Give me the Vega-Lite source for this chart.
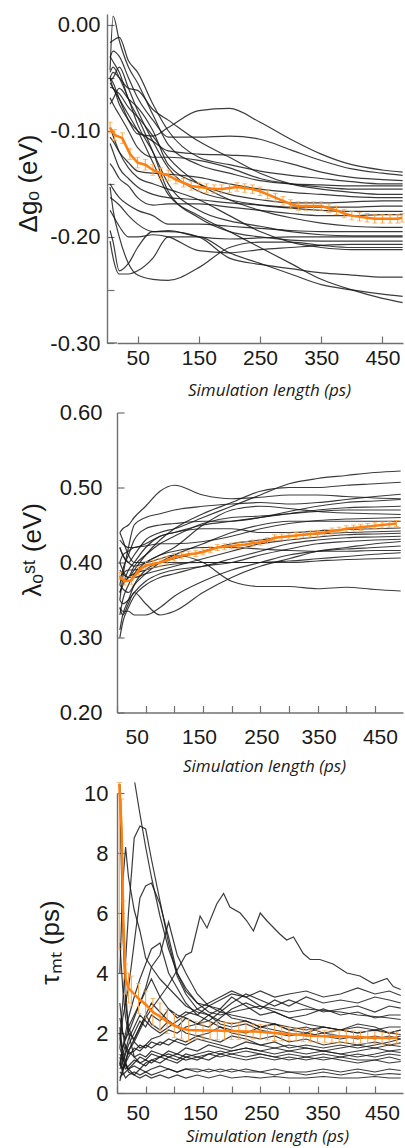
{
"$schema":"https://vega.github.io/schema/vega-lite/v6.json",
"background":"white",
"padding":{"left":15,"top":13,"right":0,"bottom":3},
"spacing":3.5,
"config":{"view":{"stroke":null},"axis":{"domainColor":"#707070","domainWidth":1.4,"tickColor":"#707070","tickWidth":1.2,"tickSize":-7,"grid":false,"labelColor":"#1a1a1a","labelFont":"Liberation Sans","labelFlush":false,"labelOverlap":false,"titleColor":"#1a1a1a","titleFontWeight":"normal"},
"axisX":{"labelFontSize":21,"labelExpr":"datum.value % 100 == 50 ? format(datum.value, 'd') : ''","titleFont":"Open Sans","titleFontStyle":"italic","titleFontSize":17,"titleBaseline":"middle","titleAlign":"center"},
"axisY":{"labelFontSize":22,"titleFont":"Liberation Sans","titleFontSize":26,"titleAngle":-90,"titleBaseline":"middle","titleAlign":"center"}},
"datasets":{
"a":[
{"s":1,"x":5,"y":-0.05},{"s":1,"x":10,"y":-0.055},{"s":1,"x":20,"y":-0.07},{"s":1,"x":35,"y":-0.09},{"s":1,"x":50,"y":-0.103},{"s":1,"x":75,"y":-0.105},{"s":1,"x":100,"y":-0.097},{"s":1,"x":150,"y":-0.081},{"s":1,"x":200,"y":-0.079},{"s":1,"x":250,"y":-0.092},{"s":1,"x":300,"y":-0.108},{"s":1,"x":350,"y":-0.122},{"s":1,"x":400,"y":-0.132},{"s":1,"x":450,"y":-0.137},{"s":1,"x":483,"y":-0.139},
{"s":2,"x":5,"y":-0.031},{"s":2,"x":10,"y":-0.025},{"s":2,"x":20,"y":-0.03},{"s":2,"x":35,"y":-0.05},{"s":2,"x":50,"y":-0.069},{"s":2,"x":75,"y":-0.09},{"s":2,"x":100,"y":-0.106},{"s":2,"x":150,"y":-0.106},{"s":2,"x":200,"y":-0.105},{"s":2,"x":250,"y":-0.108},{"s":2,"x":300,"y":-0.118},{"s":2,"x":350,"y":-0.128},{"s":2,"x":400,"y":-0.136},{"s":2,"x":450,"y":-0.14},{"s":2,"x":483,"y":-0.142},
{"s":3,"x":5,"y":-0.059},{"s":3,"x":10,"y":-0.06},{"s":3,"x":20,"y":-0.075},{"s":3,"x":35,"y":-0.09},{"s":3,"x":50,"y":-0.1},{"s":3,"x":75,"y":-0.11},{"s":3,"x":100,"y":-0.119},{"s":3,"x":150,"y":-0.122},{"s":3,"x":200,"y":-0.123},{"s":3,"x":250,"y":-0.125},{"s":3,"x":300,"y":-0.131},{"s":3,"x":350,"y":-0.139},{"s":3,"x":400,"y":-0.144},{"s":3,"x":450,"y":-0.146},{"s":3,"x":483,"y":-0.147},
{"s":4,"x":5,"y":-0.017},{"s":4,"x":10,"y":-0.015},{"s":4,"x":20,"y":-0.012},{"s":4,"x":35,"y":-0.034},{"s":4,"x":50,"y":-0.045},{"s":4,"x":75,"y":-0.075},{"s":4,"x":100,"y":-0.1},{"s":4,"x":150,"y":-0.125},{"s":4,"x":200,"y":-0.132},{"s":4,"x":250,"y":-0.138},{"s":4,"x":300,"y":-0.142},{"s":4,"x":350,"y":-0.145},{"s":4,"x":400,"y":-0.148},{"s":4,"x":450,"y":-0.15},{"s":4,"x":483,"y":-0.15},
{"s":5,"x":5,"y":-0.043},{"s":5,"x":10,"y":0.008},{"s":5,"x":20,"y":-0.015},{"s":5,"x":35,"y":-0.04},{"s":5,"x":50,"y":-0.055},{"s":5,"x":75,"y":-0.085},{"s":5,"x":100,"y":-0.113},{"s":5,"x":150,"y":-0.132},{"s":5,"x":200,"y":-0.14},{"s":5,"x":250,"y":-0.147},{"s":5,"x":300,"y":-0.15},{"s":5,"x":350,"y":-0.151},{"s":5,"x":400,"y":-0.152},{"s":5,"x":450,"y":-0.152},{"s":5,"x":483,"y":-0.152},
{"s":6,"x":5,"y":-0.069},{"s":6,"x":10,"y":-0.075},{"s":6,"x":20,"y":-0.085},{"s":6,"x":35,"y":-0.1},{"s":6,"x":50,"y":-0.116},{"s":6,"x":75,"y":-0.125},{"s":6,"x":100,"y":-0.125},{"s":6,"x":150,"y":-0.128},{"s":6,"x":200,"y":-0.135},{"s":6,"x":250,"y":-0.145},{"s":6,"x":300,"y":-0.15},{"s":6,"x":350,"y":-0.153},{"s":6,"x":400,"y":-0.155},{"s":6,"x":450,"y":-0.155},{"s":6,"x":483,"y":-0.155},
{"s":7,"x":5,"y":-0.05},{"s":7,"x":10,"y":-0.045},{"s":7,"x":20,"y":-0.05},{"s":7,"x":35,"y":-0.06},{"s":7,"x":50,"y":-0.062},{"s":7,"x":75,"y":-0.08},{"s":7,"x":100,"y":-0.09},{"s":7,"x":150,"y":-0.11},{"s":7,"x":200,"y":-0.125},{"s":7,"x":250,"y":-0.14},{"s":7,"x":300,"y":-0.15},{"s":7,"x":350,"y":-0.155},{"s":7,"x":400,"y":-0.158},{"s":7,"x":450,"y":-0.16},{"s":7,"x":483,"y":-0.16},
{"s":8,"x":5,"y":-0.106},{"s":8,"x":10,"y":-0.11},{"s":8,"x":20,"y":-0.12},{"s":8,"x":35,"y":-0.13},{"s":8,"x":50,"y":-0.138},{"s":8,"x":75,"y":-0.14},{"s":8,"x":100,"y":-0.141},{"s":8,"x":150,"y":-0.144},{"s":8,"x":200,"y":-0.15},{"s":8,"x":250,"y":-0.155},{"s":8,"x":300,"y":-0.158},{"s":8,"x":350,"y":-0.16},{"s":8,"x":400,"y":-0.162},{"s":8,"x":450,"y":-0.163},{"s":8,"x":483,"y":-0.163},
{"s":9,"x":5,"y":-0.075},{"s":9,"x":10,"y":-0.07},{"s":9,"x":20,"y":-0.06},{"s":9,"x":35,"y":-0.07},{"s":9,"x":50,"y":-0.078},{"s":9,"x":75,"y":-0.1},{"s":9,"x":100,"y":-0.132},{"s":9,"x":150,"y":-0.15},{"s":9,"x":200,"y":-0.16},{"s":9,"x":250,"y":-0.165},{"s":9,"x":300,"y":-0.168},{"s":9,"x":350,"y":-0.168},{"s":9,"x":400,"y":-0.167},{"s":9,"x":450,"y":-0.166},{"s":9,"x":483,"y":-0.166},
{"s":10,"x":5,"y":-0.112},{"s":10,"x":10,"y":-0.12},{"s":10,"x":20,"y":-0.135},{"s":10,"x":35,"y":-0.145},{"s":10,"x":50,"y":-0.153},{"s":10,"x":75,"y":-0.16},{"s":10,"x":100,"y":-0.163},{"s":10,"x":150,"y":-0.165},{"s":10,"x":200,"y":-0.168},{"s":10,"x":250,"y":-0.17},{"s":10,"x":300,"y":-0.172},{"s":10,"x":350,"y":-0.172},{"s":10,"x":400,"y":-0.172},{"s":10,"x":450,"y":-0.171},{"s":10,"x":483,"y":-0.171},
{"s":11,"x":5,"y":-0.053},{"s":11,"x":10,"y":-0.05},{"s":11,"x":20,"y":-0.04},{"s":11,"x":35,"y":-0.06},{"s":11,"x":50,"y":-0.081},{"s":11,"x":75,"y":-0.11},{"s":11,"x":100,"y":-0.135},{"s":11,"x":150,"y":-0.157},{"s":11,"x":200,"y":-0.165},{"s":11,"x":250,"y":-0.17},{"s":11,"x":300,"y":-0.173},{"s":11,"x":350,"y":-0.175},{"s":11,"x":400,"y":-0.176},{"s":11,"x":450,"y":-0.176},{"s":11,"x":483,"y":-0.176},
{"s":12,"x":5,"y":-0.131},{"s":12,"x":10,"y":-0.135},{"s":12,"x":20,"y":-0.145},{"s":12,"x":35,"y":-0.152},{"s":12,"x":50,"y":-0.163},{"s":12,"x":75,"y":-0.17},{"s":12,"x":100,"y":-0.169},{"s":12,"x":150,"y":-0.169},{"s":12,"x":200,"y":-0.172},{"s":12,"x":250,"y":-0.175},{"s":12,"x":300,"y":-0.178},{"s":12,"x":350,"y":-0.18},{"s":12,"x":400,"y":-0.18},{"s":12,"x":450,"y":-0.179},{"s":12,"x":483,"y":-0.179},
{"s":13,"x":5,"y":-0.05},{"s":13,"x":10,"y":-0.06},{"s":13,"x":20,"y":-0.065},{"s":13,"x":35,"y":-0.078},{"s":13,"x":50,"y":-0.087},{"s":13,"x":75,"y":-0.105},{"s":13,"x":100,"y":-0.125},{"s":13,"x":150,"y":-0.15},{"s":13,"x":200,"y":-0.165},{"s":13,"x":250,"y":-0.175},{"s":13,"x":300,"y":-0.182},{"s":13,"x":350,"y":-0.187},{"s":13,"x":400,"y":-0.19},{"s":13,"x":450,"y":-0.191},{"s":13,"x":483,"y":-0.191},
{"s":14,"x":5,"y":-0.15},{"s":14,"x":10,"y":-0.155},{"s":14,"x":20,"y":-0.163},{"s":14,"x":35,"y":-0.17},{"s":14,"x":50,"y":-0.175},{"s":14,"x":75,"y":-0.18},{"s":14,"x":100,"y":-0.188},{"s":14,"x":150,"y":-0.188},{"s":14,"x":200,"y":-0.19},{"s":14,"x":250,"y":-0.192},{"s":14,"x":300,"y":-0.194},{"s":14,"x":350,"y":-0.195},{"s":14,"x":400,"y":-0.195},{"s":14,"x":450,"y":-0.195},{"s":14,"x":483,"y":-0.195},
{"s":15,"x":5,"y":-0.045},{"s":15,"x":10,"y":-0.04},{"s":15,"x":20,"y":-0.05},{"s":15,"x":35,"y":-0.07},{"s":15,"x":50,"y":-0.094},{"s":15,"x":75,"y":-0.12},{"s":15,"x":100,"y":-0.15},{"s":15,"x":150,"y":-0.175},{"s":15,"x":200,"y":-0.185},{"s":15,"x":250,"y":-0.19},{"s":15,"x":300,"y":-0.195},{"s":15,"x":350,"y":-0.198},{"s":15,"x":400,"y":-0.199},{"s":15,"x":450,"y":-0.199},{"s":15,"x":483,"y":-0.199},
{"s":16,"x":5,"y":-0.163},{"s":16,"x":10,"y":-0.165},{"s":16,"x":20,"y":-0.17},{"s":16,"x":35,"y":-0.18},{"s":16,"x":50,"y":-0.188},{"s":16,"x":75,"y":-0.195},{"s":16,"x":100,"y":-0.194},{"s":16,"x":150,"y":-0.2},{"s":16,"x":200,"y":-0.202},{"s":16,"x":250,"y":-0.201},{"s":16,"x":300,"y":-0.2},{"s":16,"x":350,"y":-0.2},{"s":16,"x":400,"y":-0.2},{"s":16,"x":450,"y":-0.2},{"s":16,"x":483,"y":-0.2},
{"s":17,"x":5,"y":-0.03},{"s":17,"x":10,"y":-0.035},{"s":17,"x":20,"y":-0.045},{"s":17,"x":35,"y":-0.07},{"s":17,"x":50,"y":-0.087},{"s":17,"x":75,"y":-0.12},{"s":17,"x":100,"y":-0.157},{"s":17,"x":150,"y":-0.182},{"s":17,"x":200,"y":-0.195},{"s":17,"x":250,"y":-0.2},{"s":17,"x":300,"y":-0.203},{"s":17,"x":350,"y":-0.204},{"s":17,"x":400,"y":-0.204},{"s":17,"x":450,"y":-0.204},{"s":17,"x":483,"y":-0.204},
{"s":18,"x":5,"y":-0.175},{"s":18,"x":10,"y":-0.18},{"s":18,"x":20,"y":-0.19},{"s":18,"x":35,"y":-0.2},{"s":18,"x":50,"y":-0.2},{"s":18,"x":75,"y":-0.198},{"s":18,"x":100,"y":-0.2},{"s":18,"x":150,"y":-0.213},{"s":18,"x":200,"y":-0.215},{"s":18,"x":250,"y":-0.212},{"s":18,"x":300,"y":-0.21},{"s":18,"x":350,"y":-0.208},{"s":18,"x":400,"y":-0.207},{"s":18,"x":450,"y":-0.207},{"s":18,"x":483,"y":-0.207},
{"s":19,"x":5,"y":-0.097},{"s":19,"x":10,"y":-0.105},{"s":19,"x":20,"y":-0.12},{"s":19,"x":35,"y":-0.135},{"s":19,"x":50,"y":-0.144},{"s":19,"x":75,"y":-0.15},{"s":19,"x":100,"y":-0.155},{"s":19,"x":150,"y":-0.165},{"s":19,"x":200,"y":-0.18},{"s":19,"x":250,"y":-0.195},{"s":19,"x":300,"y":-0.205},{"s":19,"x":350,"y":-0.21},{"s":19,"x":400,"y":-0.212},{"s":19,"x":450,"y":-0.212},{"s":19,"x":483,"y":-0.212},
{"s":20,"x":5,"y":-0.194},{"s":20,"x":10,"y":-0.205},{"s":20,"x":20,"y":-0.232},{"s":20,"x":35,"y":-0.225},{"s":20,"x":50,"y":-0.21},{"s":20,"x":75,"y":-0.195},{"s":20,"x":100,"y":-0.195},{"s":20,"x":150,"y":-0.2},{"s":20,"x":200,"y":-0.22},{"s":20,"x":250,"y":-0.226},{"s":20,"x":300,"y":-0.23},{"s":20,"x":350,"y":-0.234},{"s":20,"x":400,"y":-0.236},{"s":20,"x":450,"y":-0.238},{"s":20,"x":483,"y":-0.238},
{"s":21,"x":5,"y":-0.153},{"s":21,"x":10,"y":-0.175},{"s":21,"x":20,"y":-0.2},{"s":21,"x":35,"y":-0.225},{"s":21,"x":50,"y":-0.236},{"s":21,"x":75,"y":-0.24},{"s":21,"x":100,"y":-0.241},{"s":21,"x":150,"y":-0.229},{"s":21,"x":200,"y":-0.21},{"s":21,"x":250,"y":-0.205},{"s":21,"x":300,"y":-0.205},{"s":21,"x":350,"y":-0.208},{"s":21,"x":400,"y":-0.21},{"s":21,"x":450,"y":-0.21},{"s":21,"x":483,"y":-0.21},
{"s":22,"x":5,"y":-0.055},{"s":22,"x":10,"y":-0.06},{"s":22,"x":20,"y":-0.07},{"s":22,"x":35,"y":-0.085},{"s":22,"x":50,"y":-0.1},{"s":22,"x":75,"y":-0.13},{"s":22,"x":100,"y":-0.16},{"s":22,"x":150,"y":-0.18},{"s":22,"x":200,"y":-0.195},{"s":22,"x":250,"y":-0.21},{"s":22,"x":300,"y":-0.225},{"s":22,"x":350,"y":-0.24},{"s":22,"x":400,"y":-0.25},{"s":22,"x":450,"y":-0.258},{"s":22,"x":483,"y":-0.262},
{"s":23,"x":5,"y":-0.204},{"s":23,"x":10,"y":-0.22},{"s":23,"x":20,"y":-0.235},{"s":23,"x":35,"y":-0.235},{"s":23,"x":50,"y":-0.232},{"s":23,"x":75,"y":-0.22},{"s":23,"x":100,"y":-0.2},{"s":23,"x":150,"y":-0.2},{"s":23,"x":200,"y":-0.215},{"s":23,"x":250,"y":-0.225},{"s":23,"x":300,"y":-0.235},{"s":23,"x":350,"y":-0.245},{"s":23,"x":400,"y":-0.25},{"s":23,"x":450,"y":-0.254},{"s":23,"x":483,"y":-0.256}
],
"am":[
{"x":5,"m":-0.097,"lo":-0.102,"hi":-0.092},{"x":12.5,"m":-0.104,"lo":-0.109,"hi":-0.099},{"x":25,"m":-0.107,"lo":-0.112,"hi":-0.102},{"x":37.5,"m":-0.122,"lo":-0.127,"hi":-0.117},{"x":50,"m":-0.13,"lo":-0.135,"hi":-0.125},{"x":62.5,"m":-0.132,"lo":-0.137,"hi":-0.127},{"x":75,"m":-0.137,"lo":-0.142,"hi":-0.132},{"x":87.5,"m":-0.14,"lo":-0.145,"hi":-0.135},{"x":100,"m":-0.142,"lo":-0.147,"hi":-0.137},{"x":112.5,"m":-0.146,"lo":-0.15,"hi":-0.142},{"x":125,"m":-0.149,"lo":-0.153,"hi":-0.145},{"x":137.5,"m":-0.152,"lo":-0.156,"hi":-0.148},{"x":150,"m":-0.153,"lo":-0.157,"hi":-0.149},{"x":162.5,"m":-0.154,"lo":-0.158,"hi":-0.15},{"x":175,"m":-0.155,"lo":-0.159,"hi":-0.151},{"x":187.5,"m":-0.155,"lo":-0.159,"hi":-0.151},{"x":200,"m":-0.154,"lo":-0.158,"hi":-0.15},{"x":212.5,"m":-0.153,"lo":-0.157,"hi":-0.149},{"x":225,"m":-0.154,"lo":-0.158,"hi":-0.15},{"x":237.5,"m":-0.155,"lo":-0.159,"hi":-0.151},{"x":250,"m":-0.157,"lo":-0.161,"hi":-0.153},{"x":262.5,"m":-0.16,"lo":-0.164,"hi":-0.156},{"x":275,"m":-0.163,"lo":-0.167,"hi":-0.159},{"x":287.5,"m":-0.166,"lo":-0.17,"hi":-0.162},{"x":300,"m":-0.169,"lo":-0.173,"hi":-0.165},{"x":312.5,"m":-0.171,"lo":-0.175,"hi":-0.167},{"x":325,"m":-0.171,"lo":-0.175,"hi":-0.167},{"x":337.5,"m":-0.171,"lo":-0.175,"hi":-0.167},{"x":350,"m":-0.171,"lo":-0.175,"hi":-0.167},{"x":362.5,"m":-0.173,"lo":-0.177,"hi":-0.169},{"x":375,"m":-0.175,"lo":-0.179,"hi":-0.171},{"x":387.5,"m":-0.178,"lo":-0.182,"hi":-0.174},{"x":400,"m":-0.18,"lo":-0.184,"hi":-0.176},{"x":412.5,"m":-0.181,"lo":-0.185,"hi":-0.177},{"x":425,"m":-0.182,"lo":-0.186,"hi":-0.178},{"x":437.5,"m":-0.183,"lo":-0.187,"hi":-0.179},{"x":450,"m":-0.183,"lo":-0.187,"hi":-0.179},{"x":462.5,"m":-0.183,"lo":-0.187,"hi":-0.179},{"x":475,"m":-0.183,"lo":-0.187,"hi":-0.179},{"x":482,"m":-0.182,"lo":-0.186,"hi":-0.178}
],
"b":[
{"s":1,"x":5,"y":0.42},{"s":1,"x":10,"y":0.41},{"s":1,"x":20,"y":0.4},{"s":1,"x":30,"y":0.41},{"s":1,"x":50,"y":0.43},{"s":1,"x":75,"y":0.44},{"s":1,"x":100,"y":0.445},{"s":1,"x":150,"y":0.46},{"s":1,"x":200,"y":0.475},{"s":1,"x":250,"y":0.49},{"s":1,"x":300,"y":0.505},{"s":1,"x":350,"y":0.512},{"s":1,"x":400,"y":0.516},{"s":1,"x":450,"y":0.52},{"s":1,"x":495,"y":0.522},
{"s":2,"x":5,"y":0.44},{"s":2,"x":10,"y":0.445},{"s":2,"x":20,"y":0.45},{"s":2,"x":30,"y":0.46},{"s":2,"x":50,"y":0.475},{"s":2,"x":75,"y":0.495},{"s":2,"x":100,"y":0.503},{"s":2,"x":150,"y":0.49},{"s":2,"x":200,"y":0.485},{"s":2,"x":250,"y":0.487},{"s":2,"x":300,"y":0.49},{"s":2,"x":350,"y":0.49},{"s":2,"x":400,"y":0.488},{"s":2,"x":450,"y":0.486},{"s":2,"x":495,"y":0.485},
{"s":3,"x":5,"y":0.4},{"s":3,"x":10,"y":0.39},{"s":3,"x":20,"y":0.38},{"s":3,"x":30,"y":0.39},{"s":3,"x":50,"y":0.41},{"s":3,"x":75,"y":0.43},{"s":3,"x":100,"y":0.445},{"s":3,"x":150,"y":0.465},{"s":3,"x":200,"y":0.48},{"s":3,"x":250,"y":0.495},{"s":3,"x":300,"y":0.5},{"s":3,"x":350,"y":0.5},{"s":3,"x":400,"y":0.503},{"s":3,"x":450,"y":0.505},{"s":3,"x":495,"y":0.507},
{"s":4,"x":5,"y":0.35},{"s":4,"x":10,"y":0.38},{"s":4,"x":20,"y":0.42},{"s":4,"x":30,"y":0.45},{"s":4,"x":50,"y":0.46},{"s":4,"x":75,"y":0.465},{"s":4,"x":100,"y":0.47},{"s":4,"x":150,"y":0.475},{"s":4,"x":200,"y":0.478},{"s":4,"x":250,"y":0.48},{"s":4,"x":300,"y":0.478},{"s":4,"x":350,"y":0.48},{"s":4,"x":400,"y":0.484},{"s":4,"x":450,"y":0.488},{"s":4,"x":495,"y":0.491},
{"s":5,"x":5,"y":0.36},{"s":5,"x":10,"y":0.37},{"s":5,"x":20,"y":0.39},{"s":5,"x":30,"y":0.4},{"s":5,"x":50,"y":0.42},{"s":5,"x":75,"y":0.435},{"s":5,"x":100,"y":0.44},{"s":5,"x":150,"y":0.45},{"s":5,"x":200,"y":0.455},{"s":5,"x":250,"y":0.46},{"s":5,"x":300,"y":0.465},{"s":5,"x":350,"y":0.47},{"s":5,"x":400,"y":0.473},{"s":5,"x":450,"y":0.474},{"s":5,"x":495,"y":0.475},
{"s":6,"x":5,"y":0.38},{"s":6,"x":10,"y":0.375},{"s":6,"x":20,"y":0.38},{"s":6,"x":30,"y":0.395},{"s":6,"x":50,"y":0.41},{"s":6,"x":75,"y":0.425},{"s":6,"x":100,"y":0.435},{"s":6,"x":150,"y":0.452},{"s":6,"x":200,"y":0.46},{"s":6,"x":250,"y":0.462},{"s":6,"x":300,"y":0.465},{"s":6,"x":350,"y":0.468},{"s":6,"x":400,"y":0.47},{"s":6,"x":450,"y":0.47},{"s":6,"x":495,"y":0.47},
{"s":7,"x":5,"y":0.33},{"s":7,"x":10,"y":0.35},{"s":7,"x":20,"y":0.37},{"s":7,"x":30,"y":0.385},{"s":7,"x":50,"y":0.4},{"s":7,"x":75,"y":0.41},{"s":7,"x":100,"y":0.42},{"s":7,"x":150,"y":0.45},{"s":7,"x":200,"y":0.47},{"s":7,"x":250,"y":0.475},{"s":7,"x":300,"y":0.472},{"s":7,"x":350,"y":0.468},{"s":7,"x":400,"y":0.466},{"s":7,"x":450,"y":0.465},{"s":7,"x":495,"y":0.464},
{"s":8,"x":5,"y":0.4},{"s":8,"x":10,"y":0.41},{"s":8,"x":20,"y":0.415},{"s":8,"x":30,"y":0.42},{"s":8,"x":50,"y":0.422},{"s":8,"x":75,"y":0.425},{"s":8,"x":100,"y":0.425},{"s":8,"x":150,"y":0.428},{"s":8,"x":200,"y":0.435},{"s":8,"x":250,"y":0.445},{"s":8,"x":300,"y":0.452},{"s":8,"x":350,"y":0.456},{"s":8,"x":400,"y":0.458},{"s":8,"x":450,"y":0.459},{"s":8,"x":495,"y":0.46},
{"s":9,"x":5,"y":0.37},{"s":9,"x":10,"y":0.365},{"s":9,"x":20,"y":0.36},{"s":9,"x":30,"y":0.37},{"s":9,"x":50,"y":0.385},{"s":9,"x":75,"y":0.4},{"s":9,"x":100,"y":0.41},{"s":9,"x":150,"y":0.425},{"s":9,"x":200,"y":0.44},{"s":9,"x":250,"y":0.45},{"s":9,"x":300,"y":0.455},{"s":9,"x":350,"y":0.455},{"s":9,"x":400,"y":0.455},{"s":9,"x":450,"y":0.455},{"s":9,"x":495,"y":0.455},
{"s":10,"x":5,"y":0.43},{"s":10,"x":10,"y":0.425},{"s":10,"x":20,"y":0.42},{"s":10,"x":30,"y":0.42},{"s":10,"x":50,"y":0.425},{"s":10,"x":75,"y":0.435},{"s":10,"x":100,"y":0.44},{"s":10,"x":150,"y":0.445},{"s":10,"x":200,"y":0.445},{"s":10,"x":250,"y":0.44},{"s":10,"x":300,"y":0.44},{"s":10,"x":350,"y":0.442},{"s":10,"x":400,"y":0.444},{"s":10,"x":450,"y":0.445},{"s":10,"x":495,"y":0.446},
{"s":11,"x":5,"y":0.31},{"s":11,"x":10,"y":0.33},{"s":11,"x":20,"y":0.35},{"s":11,"x":30,"y":0.37},{"s":11,"x":50,"y":0.39},{"s":11,"x":75,"y":0.4},{"s":11,"x":100,"y":0.405},{"s":11,"x":150,"y":0.415},{"s":11,"x":200,"y":0.425},{"s":11,"x":250,"y":0.43},{"s":11,"x":300,"y":0.435},{"s":11,"x":350,"y":0.438},{"s":11,"x":400,"y":0.44},{"s":11,"x":450,"y":0.441},{"s":11,"x":495,"y":0.442},
{"s":12,"x":5,"y":0.39},{"s":12,"x":10,"y":0.385},{"s":12,"x":20,"y":0.38},{"s":12,"x":30,"y":0.38},{"s":12,"x":50,"y":0.385},{"s":12,"x":75,"y":0.39},{"s":12,"x":100,"y":0.395},{"s":12,"x":150,"y":0.405},{"s":12,"x":200,"y":0.415},{"s":12,"x":250,"y":0.425},{"s":12,"x":300,"y":0.43},{"s":12,"x":350,"y":0.434},{"s":12,"x":400,"y":0.437},{"s":12,"x":450,"y":0.438},{"s":12,"x":495,"y":0.439},
{"s":13,"x":5,"y":0.35},{"s":13,"x":10,"y":0.345},{"s":13,"x":20,"y":0.35},{"s":13,"x":30,"y":0.36},{"s":13,"x":50,"y":0.375},{"s":13,"x":75,"y":0.385},{"s":13,"x":100,"y":0.39},{"s":13,"x":150,"y":0.395},{"s":13,"x":200,"y":0.405},{"s":13,"x":250,"y":0.415},{"s":13,"x":300,"y":0.425},{"s":13,"x":350,"y":0.43},{"s":13,"x":400,"y":0.433},{"s":13,"x":450,"y":0.434},{"s":13,"x":495,"y":0.435},
{"s":14,"x":5,"y":0.3},{"s":14,"x":10,"y":0.32},{"s":14,"x":20,"y":0.34},{"s":14,"x":30,"y":0.355},{"s":14,"x":50,"y":0.37},{"s":14,"x":75,"y":0.38},{"s":14,"x":100,"y":0.385},{"s":14,"x":150,"y":0.395},{"s":14,"x":200,"y":0.4},{"s":14,"x":250,"y":0.41},{"s":14,"x":300,"y":0.418},{"s":14,"x":350,"y":0.425},{"s":14,"x":400,"y":0.428},{"s":14,"x":450,"y":0.43},{"s":14,"x":495,"y":0.431},
{"s":15,"x":5,"y":0.34},{"s":15,"x":10,"y":0.335},{"s":15,"x":20,"y":0.335},{"s":15,"x":30,"y":0.33},{"s":15,"x":50,"y":0.33},{"s":15,"x":75,"y":0.34},{"s":15,"x":100,"y":0.355},{"s":15,"x":150,"y":0.375},{"s":15,"x":200,"y":0.39},{"s":15,"x":250,"y":0.4},{"s":15,"x":300,"y":0.41},{"s":15,"x":350,"y":0.415},{"s":15,"x":400,"y":0.418},{"s":15,"x":450,"y":0.42},{"s":15,"x":495,"y":0.422},
{"s":16,"x":5,"y":0.42},{"s":16,"x":10,"y":0.41},{"s":16,"x":20,"y":0.4},{"s":16,"x":30,"y":0.395},{"s":16,"x":50,"y":0.4},{"s":16,"x":75,"y":0.41},{"s":16,"x":100,"y":0.415},{"s":16,"x":150,"y":0.42},{"s":16,"x":200,"y":0.42},{"s":16,"x":250,"y":0.418},{"s":16,"x":300,"y":0.416},{"s":16,"x":350,"y":0.415},{"s":16,"x":400,"y":0.415},{"s":16,"x":450,"y":0.416},{"s":16,"x":495,"y":0.416},
{"s":17,"x":5,"y":0.36},{"s":17,"x":10,"y":0.37},{"s":17,"x":20,"y":0.38},{"s":17,"x":30,"y":0.385},{"s":17,"x":50,"y":0.39},{"s":17,"x":75,"y":0.395},{"s":17,"x":100,"y":0.398},{"s":17,"x":150,"y":0.4},{"s":17,"x":200,"y":0.4},{"s":17,"x":250,"y":0.4},{"s":17,"x":300,"y":0.402},{"s":17,"x":350,"y":0.405},{"s":17,"x":400,"y":0.408},{"s":17,"x":450,"y":0.411},{"s":17,"x":495,"y":0.413},
{"s":18,"x":5,"y":0.38},{"s":18,"x":10,"y":0.385},{"s":18,"x":20,"y":0.39},{"s":18,"x":30,"y":0.39},{"s":18,"x":50,"y":0.395},{"s":18,"x":75,"y":0.4},{"s":18,"x":100,"y":0.4},{"s":18,"x":150,"y":0.4},{"s":18,"x":200,"y":0.4},{"s":18,"x":250,"y":0.4},{"s":18,"x":300,"y":0.4},{"s":18,"x":350,"y":0.402},{"s":18,"x":400,"y":0.404},{"s":18,"x":450,"y":0.405},{"s":18,"x":495,"y":0.406},
{"s":19,"x":5,"y":0.44},{"s":19,"x":10,"y":0.43},{"s":19,"x":20,"y":0.41},{"s":19,"x":30,"y":0.4},{"s":19,"x":50,"y":0.4},{"s":19,"x":75,"y":0.405},{"s":19,"x":100,"y":0.41},{"s":19,"x":150,"y":0.4},{"s":19,"x":200,"y":0.375},{"s":19,"x":250,"y":0.368},{"s":19,"x":300,"y":0.368},{"s":19,"x":350,"y":0.365},{"s":19,"x":400,"y":0.367},{"s":19,"x":450,"y":0.364},{"s":19,"x":495,"y":0.362},
{"s":20,"x":5,"y":0.37},{"s":20,"x":10,"y":0.39},{"s":20,"x":20,"y":0.41},{"s":20,"x":30,"y":0.43},{"s":20,"x":50,"y":0.445},{"s":20,"x":75,"y":0.45},{"s":20,"x":100,"y":0.452},{"s":20,"x":150,"y":0.455},{"s":20,"x":200,"y":0.455},{"s":20,"x":250,"y":0.46},{"s":20,"x":300,"y":0.468},{"s":20,"x":350,"y":0.475},{"s":20,"x":400,"y":0.48},{"s":20,"x":450,"y":0.482},{"s":20,"x":495,"y":0.484},
{"s":21,"x":5,"y":0.34},{"s":21,"x":10,"y":0.33},{"s":21,"x":20,"y":0.345},{"s":21,"x":30,"y":0.36},{"s":21,"x":50,"y":0.345},{"s":21,"x":75,"y":0.33},{"s":21,"x":100,"y":0.335},{"s":21,"x":150,"y":0.36},{"s":21,"x":200,"y":0.38},{"s":21,"x":250,"y":0.395},{"s":21,"x":300,"y":0.405},{"s":21,"x":350,"y":0.415},{"s":21,"x":400,"y":0.42},{"s":21,"x":450,"y":0.425},{"s":21,"x":495,"y":0.428}
],
"bm":[
{"x":5,"m":0.382,"lo":0.377,"hi":0.387},{"x":12.5,"m":0.375,"lo":0.37,"hi":0.38},{"x":25,"m":0.376,"lo":0.371,"hi":0.381},{"x":37.5,"m":0.389,"lo":0.384,"hi":0.394},{"x":50,"m":0.396,"lo":0.391,"hi":0.401},{"x":62.5,"m":0.398,"lo":0.393,"hi":0.403},{"x":75,"m":0.4,"lo":0.395,"hi":0.405},{"x":87.5,"m":0.403,"lo":0.398,"hi":0.408},{"x":100,"m":0.407,"lo":0.402,"hi":0.412},{"x":112.5,"m":0.409,"lo":0.405,"hi":0.413},{"x":125,"m":0.411,"lo":0.407,"hi":0.415},{"x":137.5,"m":0.412,"lo":0.408,"hi":0.416},{"x":150,"m":0.414,"lo":0.41,"hi":0.418},{"x":162.5,"m":0.417,"lo":0.413,"hi":0.421},{"x":175,"m":0.42,"lo":0.416,"hi":0.424},{"x":187.5,"m":0.421,"lo":0.417,"hi":0.425},{"x":200,"m":0.422,"lo":0.418,"hi":0.426},{"x":212.5,"m":0.423,"lo":0.419,"hi":0.427},{"x":225,"m":0.424,"lo":0.42,"hi":0.428},{"x":237.5,"m":0.426,"lo":0.422,"hi":0.43},{"x":250,"m":0.427,"lo":0.423,"hi":0.431},{"x":262.5,"m":0.429,"lo":0.425,"hi":0.433},{"x":275,"m":0.433,"lo":0.429,"hi":0.437},{"x":287.5,"m":0.434,"lo":0.43,"hi":0.438},{"x":300,"m":0.435,"lo":0.431,"hi":0.439},{"x":312.5,"m":0.436,"lo":0.432,"hi":0.44},{"x":325,"m":0.437,"lo":0.433,"hi":0.441},{"x":337.5,"m":0.438,"lo":0.434,"hi":0.442},{"x":350,"m":0.439,"lo":0.435,"hi":0.443},{"x":362.5,"m":0.44,"lo":0.436,"hi":0.444},{"x":375,"m":0.442,"lo":0.438,"hi":0.446},{"x":387.5,"m":0.443,"lo":0.439,"hi":0.447},{"x":400,"m":0.445,"lo":0.441,"hi":0.449},{"x":412.5,"m":0.446,"lo":0.442,"hi":0.45},{"x":425,"m":0.447,"lo":0.443,"hi":0.451},{"x":437.5,"m":0.448,"lo":0.444,"hi":0.452},{"x":450,"m":0.449,"lo":0.445,"hi":0.453},{"x":462.5,"m":0.45,"lo":0.446,"hi":0.454},{"x":475,"m":0.451,"lo":0.447,"hi":0.455},{"x":487.5,"m":0.452,"lo":0.448,"hi":0.456}
],
"c":[
{"s":1,"x":5,"y":1.0},{"s":1,"x":10,"y":0.8},{"s":1,"x":15,"y":1.1},{"s":1,"x":20,"y":1.4},{"s":1,"x":30,"y":1.7},{"s":1,"x":40,"y":2.1},{"s":1,"x":50,"y":2.5},{"s":1,"x":60,"y":2.8},{"s":1,"x":75,"y":3.2},{"s":1,"x":90,"y":3.6},{"s":1,"x":105,"y":4.1},{"s":1,"x":120,"y":4.6},{"s":1,"x":130,"y":4.7},{"s":1,"x":145,"y":5.9},{"s":1,"x":157,"y":5.5},{"s":1,"x":174,"y":6.3},{"s":1,"x":186,"y":6.65},{"s":1,"x":197,"y":6.2},{"s":1,"x":215,"y":6.0},{"s":1,"x":226,"y":5.75},{"s":1,"x":238,"y":5.4},{"s":1,"x":250,"y":6.0},{"s":1,"x":261,"y":5.75},{"s":1,"x":284,"y":5.3},{"s":1,"x":296,"y":5.1},{"s":1,"x":308,"y":5.2},{"s":1,"x":325,"y":4.65},{"s":1,"x":337,"y":4.45},{"s":1,"x":354,"y":4.45},{"s":1,"x":377,"y":4.3},{"s":1,"x":401,"y":4.0},{"s":1,"x":424,"y":3.9},{"s":1,"x":447,"y":3.65},{"s":1,"x":471,"y":3.82},{"s":1,"x":482,"y":3.55},{"s":1,"x":495,"y":3.45},
{"s":2,"x":31,"y":10.35},{"s":2,"x":40,"y":9.3},{"s":2,"x":50,"y":8.2},{"s":2,"x":60,"y":7.2},{"s":2,"x":75,"y":5.9},{"s":2,"x":90,"y":4.8},{"s":2,"x":105,"y":4.0},{"s":2,"x":120,"y":3.5},{"s":2,"x":140,"y":3.0},{"s":2,"x":160,"y":2.7},{"s":2,"x":180,"y":2.6},{"s":2,"x":200,"y":2.7},{"s":2,"x":225,"y":2.8},{"s":2,"x":250,"y":2.9},{"s":2,"x":275,"y":2.8},{"s":2,"x":300,"y":2.7},{"s":2,"x":330,"y":2.8},{"s":2,"x":360,"y":2.75},{"s":2,"x":390,"y":2.7},{"s":2,"x":420,"y":2.6},{"s":2,"x":450,"y":2.55},{"s":2,"x":475,"y":2.5},{"s":2,"x":495,"y":2.45},
{"s":3,"x":5,"y":1.8},{"s":3,"x":10,"y":3.0},{"s":3,"x":15,"y":4.4},{"s":3,"x":20,"y":6.0},{"s":3,"x":30,"y":8.5},{"s":3,"x":40,"y":8.9},{"s":3,"x":50,"y":8.8},{"s":3,"x":60,"y":7.8},{"s":3,"x":75,"y":6.4},{"s":3,"x":90,"y":5.0},{"s":3,"x":105,"y":3.9},{"s":3,"x":120,"y":3.3},{"s":3,"x":140,"y":2.8},{"s":3,"x":160,"y":2.6},{"s":3,"x":180,"y":2.4},{"s":3,"x":200,"y":2.3},{"s":3,"x":225,"y":2.4},{"s":3,"x":250,"y":2.2},{"s":3,"x":275,"y":2.3},{"s":3,"x":300,"y":2.1},{"s":3,"x":330,"y":2.2},{"s":3,"x":360,"y":2.0},{"s":3,"x":390,"y":2.1},{"s":3,"x":420,"y":2.2},{"s":3,"x":450,"y":2.1},{"s":3,"x":475,"y":2.2},{"s":3,"x":495,"y":2.2},
{"s":4,"x":5,"y":1.5},{"s":4,"x":10,"y":2.5},{"s":4,"x":15,"y":3.0},{"s":4,"x":20,"y":3.5},{"s":4,"x":30,"y":5.0},{"s":4,"x":40,"y":6.5},{"s":4,"x":50,"y":6.9},{"s":4,"x":60,"y":7.0},{"s":4,"x":75,"y":6.3},{"s":4,"x":90,"y":5.2},{"s":4,"x":105,"y":4.0},{"s":4,"x":120,"y":3.4},{"s":4,"x":140,"y":3.0},{"s":4,"x":160,"y":2.9},{"s":4,"x":180,"y":2.7},{"s":4,"x":200,"y":2.6},{"s":4,"x":225,"y":2.5},{"s":4,"x":250,"y":2.4},{"s":4,"x":275,"y":2.3},{"s":4,"x":300,"y":2.2},{"s":4,"x":330,"y":2.1},{"s":4,"x":360,"y":2.2},{"s":4,"x":390,"y":2.1},{"s":4,"x":420,"y":2.0},{"s":4,"x":450,"y":2.1},{"s":4,"x":475,"y":2.0},{"s":4,"x":495,"y":2.1},
{"s":5,"x":5,"y":4.0},{"s":5,"x":10,"y":7.0},{"s":5,"x":15,"y":8.2},{"s":5,"x":20,"y":7.2},{"s":5,"x":30,"y":6.1},{"s":5,"x":40,"y":5.4},{"s":5,"x":50,"y":4.5},{"s":5,"x":60,"y":4.2},{"s":5,"x":75,"y":3.8},{"s":5,"x":90,"y":3.5},{"s":5,"x":105,"y":3.2},{"s":5,"x":120,"y":2.9},{"s":5,"x":140,"y":2.7},{"s":5,"x":160,"y":2.6},{"s":5,"x":180,"y":2.3},{"s":5,"x":200,"y":2.2},{"s":5,"x":225,"y":2.3},{"s":5,"x":250,"y":2.1},{"s":5,"x":275,"y":2.0},{"s":5,"x":300,"y":1.9},{"s":5,"x":330,"y":2.0},{"s":5,"x":360,"y":1.9},{"s":5,"x":390,"y":1.8},{"s":5,"x":420,"y":1.9},{"s":5,"x":450,"y":1.8},{"s":5,"x":475,"y":1.9},{"s":5,"x":495,"y":1.8},
{"s":6,"x":5,"y":10.3},{"s":6,"x":10,"y":6.5},{"s":6,"x":15,"y":3.5},{"s":6,"x":20,"y":2.0},{"s":6,"x":30,"y":1.2},{"s":6,"x":40,"y":1.0},{"s":6,"x":50,"y":1.1},{"s":6,"x":60,"y":1.0},{"s":6,"x":75,"y":1.2},{"s":6,"x":90,"y":1.1},{"s":6,"x":105,"y":1.0},{"s":6,"x":120,"y":1.2},{"s":6,"x":140,"y":1.1},{"s":6,"x":160,"y":1.3},{"s":6,"x":180,"y":1.2},{"s":6,"x":200,"y":1.3},{"s":6,"x":225,"y":1.2},{"s":6,"x":250,"y":1.3},{"s":6,"x":275,"y":1.2},{"s":6,"x":300,"y":1.1},{"s":6,"x":330,"y":1.2},{"s":6,"x":360,"y":1.1},{"s":6,"x":390,"y":1.2},{"s":6,"x":420,"y":1.1},{"s":6,"x":450,"y":1.1},{"s":6,"x":475,"y":1.0},{"s":6,"x":495,"y":1.05},
{"s":7,"x":5,"y":2.0},{"s":7,"x":10,"y":1.5},{"s":7,"x":15,"y":1.8},{"s":7,"x":20,"y":2.0},{"s":7,"x":30,"y":2.5},{"s":7,"x":40,"y":3.0},{"s":7,"x":50,"y":3.5},{"s":7,"x":60,"y":4.2},{"s":7,"x":75,"y":4.6},{"s":7,"x":90,"y":5.7},{"s":7,"x":105,"y":4.6},{"s":7,"x":120,"y":4.0},{"s":7,"x":140,"y":3.3},{"s":7,"x":160,"y":2.9},{"s":7,"x":180,"y":2.8},{"s":7,"x":200,"y":2.5},{"s":7,"x":225,"y":2.4},{"s":7,"x":250,"y":2.2},{"s":7,"x":275,"y":2.1},{"s":7,"x":300,"y":2.0},{"s":7,"x":330,"y":1.9},{"s":7,"x":360,"y":2.0},{"s":7,"x":390,"y":1.9},{"s":7,"x":420,"y":1.8},{"s":7,"x":450,"y":1.9},{"s":7,"x":475,"y":1.8},{"s":7,"x":495,"y":1.9},
{"s":8,"x":5,"y":1.0},{"s":8,"x":10,"y":1.5},{"s":8,"x":15,"y":2.0},{"s":8,"x":20,"y":2.5},{"s":8,"x":30,"y":3.2},{"s":8,"x":40,"y":3.8},{"s":8,"x":50,"y":4.3},{"s":8,"x":60,"y":4.8},{"s":8,"x":75,"y":5.0},{"s":8,"x":90,"y":4.0},{"s":8,"x":105,"y":3.5},{"s":8,"x":120,"y":3.0},{"s":8,"x":140,"y":2.6},{"s":8,"x":160,"y":2.4},{"s":8,"x":180,"y":2.7},{"s":8,"x":200,"y":3.0},{"s":8,"x":225,"y":3.3},{"s":8,"x":250,"y":3.1},{"s":8,"x":275,"y":2.9},{"s":8,"x":300,"y":3.1},{"s":8,"x":330,"y":2.9},{"s":8,"x":360,"y":2.7},{"s":8,"x":390,"y":2.8},{"s":8,"x":420,"y":2.9},{"s":8,"x":450,"y":2.7},{"s":8,"x":475,"y":2.9},{"s":8,"x":495,"y":2.83},
{"s":9,"x":5,"y":0.8},{"s":9,"x":10,"y":1.0},{"s":9,"x":15,"y":1.3},{"s":9,"x":20,"y":1.6},{"s":9,"x":30,"y":2.0},{"s":9,"x":40,"y":2.4},{"s":9,"x":50,"y":2.2},{"s":9,"x":60,"y":2.6},{"s":9,"x":75,"y":2.4},{"s":9,"x":90,"y":2.8},{"s":9,"x":105,"y":2.5},{"s":9,"x":120,"y":2.7},{"s":9,"x":140,"y":2.6},{"s":9,"x":160,"y":2.9},{"s":9,"x":180,"y":3.1},{"s":9,"x":200,"y":3.3},{"s":9,"x":225,"y":3.2},{"s":9,"x":250,"y":3.4},{"s":9,"x":275,"y":3.2},{"s":9,"x":300,"y":3.3},{"s":9,"x":330,"y":3.4},{"s":9,"x":360,"y":3.2},{"s":9,"x":390,"y":3.3},{"s":9,"x":420,"y":3.5},{"s":9,"x":450,"y":3.3},{"s":9,"x":475,"y":3.4},{"s":9,"x":495,"y":3.25},
{"s":10,"x":5,"y":2.5},{"s":10,"x":10,"y":2.0},{"s":10,"x":15,"y":1.8},{"s":10,"x":20,"y":2.2},{"s":10,"x":30,"y":2.6},{"s":10,"x":40,"y":3.0},{"s":10,"x":50,"y":3.4},{"s":10,"x":60,"y":3.8},{"s":10,"x":75,"y":3.2},{"s":10,"x":90,"y":2.8},{"s":10,"x":105,"y":2.6},{"s":10,"x":120,"y":2.5},{"s":10,"x":140,"y":2.3},{"s":10,"x":160,"y":2.2},{"s":10,"x":180,"y":2.5},{"s":10,"x":200,"y":2.8},{"s":10,"x":225,"y":3.0},{"s":10,"x":250,"y":2.8},{"s":10,"x":275,"y":3.1},{"s":10,"x":300,"y":2.9},{"s":10,"x":330,"y":3.2},{"s":10,"x":360,"y":3.0},{"s":10,"x":390,"y":3.1},{"s":10,"x":420,"y":3.0},{"s":10,"x":450,"y":3.2},{"s":10,"x":475,"y":3.1},{"s":10,"x":495,"y":3.0},
{"s":11,"x":5,"y":5.0},{"s":11,"x":10,"y":3.5},{"s":11,"x":15,"y":2.5},{"s":11,"x":20,"y":2.0},{"s":11,"x":30,"y":1.8},{"s":11,"x":40,"y":2.2},{"s":11,"x":50,"y":2.6},{"s":11,"x":60,"y":2.3},{"s":11,"x":75,"y":2.1},{"s":11,"x":90,"y":2.4},{"s":11,"x":105,"y":2.2},{"s":11,"x":120,"y":2.5},{"s":11,"x":140,"y":2.3},{"s":11,"x":160,"y":2.6},{"s":11,"x":180,"y":2.8},{"s":11,"x":200,"y":3.2},{"s":11,"x":225,"y":2.9},{"s":11,"x":250,"y":2.6},{"s":11,"x":275,"y":2.7},{"s":11,"x":300,"y":2.5},{"s":11,"x":330,"y":2.6},{"s":11,"x":360,"y":2.8},{"s":11,"x":390,"y":2.6},{"s":11,"x":420,"y":2.7},{"s":11,"x":450,"y":2.5},{"s":11,"x":475,"y":2.6},{"s":11,"x":495,"y":2.6},
{"s":12,"x":5,"y":1.2},{"s":12,"x":10,"y":0.8},{"s":12,"x":15,"y":1.0},{"s":12,"x":20,"y":1.4},{"s":12,"x":30,"y":1.8},{"s":12,"x":40,"y":2.2},{"s":12,"x":50,"y":2.6},{"s":12,"x":60,"y":3.0},{"s":12,"x":75,"y":2.7},{"s":12,"x":90,"y":2.4},{"s":12,"x":105,"y":2.2},{"s":12,"x":120,"y":2.0},{"s":12,"x":140,"y":1.9},{"s":12,"x":160,"y":2.0},{"s":12,"x":180,"y":2.2},{"s":12,"x":200,"y":2.1},{"s":12,"x":225,"y":2.0},{"s":12,"x":250,"y":2.2},{"s":12,"x":275,"y":2.3},{"s":12,"x":300,"y":2.1},{"s":12,"x":330,"y":2.0},{"s":12,"x":360,"y":2.2},{"s":12,"x":390,"y":2.1},{"s":12,"x":420,"y":2.3},{"s":12,"x":450,"y":2.2},{"s":12,"x":475,"y":2.0},{"s":12,"x":495,"y":2.1},
{"s":13,"x":5,"y":0.5},{"s":13,"x":10,"y":0.7},{"s":13,"x":15,"y":1.0},{"s":13,"x":20,"y":1.2},{"s":13,"x":30,"y":1.5},{"s":13,"x":40,"y":1.4},{"s":13,"x":50,"y":1.6},{"s":13,"x":60,"y":1.5},{"s":13,"x":75,"y":1.7},{"s":13,"x":90,"y":1.6},{"s":13,"x":105,"y":1.8},{"s":13,"x":120,"y":1.7},{"s":13,"x":140,"y":1.9},{"s":13,"x":160,"y":1.8},{"s":13,"x":180,"y":1.7},{"s":13,"x":200,"y":1.9},{"s":13,"x":225,"y":1.8},{"s":13,"x":250,"y":1.6},{"s":13,"x":275,"y":1.7},{"s":13,"x":300,"y":1.5},{"s":13,"x":330,"y":1.6},{"s":13,"x":360,"y":1.5},{"s":13,"x":390,"y":1.6},{"s":13,"x":420,"y":1.5},{"s":13,"x":450,"y":1.6},{"s":13,"x":475,"y":1.7},{"s":13,"x":495,"y":1.8},
{"s":14,"x":5,"y":3.0},{"s":14,"x":10,"y":2.0},{"s":14,"x":15,"y":1.5},{"s":14,"x":20,"y":1.3},{"s":14,"x":30,"y":1.4},{"s":14,"x":40,"y":1.6},{"s":14,"x":50,"y":1.5},{"s":14,"x":60,"y":1.7},{"s":14,"x":75,"y":1.6},{"s":14,"x":90,"y":1.8},{"s":14,"x":105,"y":1.7},{"s":14,"x":120,"y":1.6},{"s":14,"x":140,"y":1.8},{"s":14,"x":160,"y":1.7},{"s":14,"x":180,"y":1.6},{"s":14,"x":200,"y":1.5},{"s":14,"x":225,"y":1.7},{"s":14,"x":250,"y":1.6},{"s":14,"x":275,"y":1.5},{"s":14,"x":300,"y":1.6},{"s":14,"x":330,"y":1.5},{"s":14,"x":360,"y":1.4},{"s":14,"x":390,"y":1.5},{"s":14,"x":420,"y":1.6},{"s":14,"x":450,"y":1.5},{"s":14,"x":475,"y":1.6},{"s":14,"x":495,"y":1.55},
{"s":15,"x":5,"y":1.5},{"s":15,"x":10,"y":1.2},{"s":15,"x":15,"y":0.9},{"s":15,"x":20,"y":0.8},{"s":15,"x":30,"y":1.0},{"s":15,"x":40,"y":1.2},{"s":15,"x":50,"y":1.1},{"s":15,"x":60,"y":1.3},{"s":15,"x":75,"y":1.2},{"s":15,"x":90,"y":1.4},{"s":15,"x":105,"y":1.3},{"s":15,"x":120,"y":1.5},{"s":15,"x":140,"y":1.4},{"s":15,"x":160,"y":1.6},{"s":15,"x":180,"y":1.5},{"s":15,"x":200,"y":1.4},{"s":15,"x":225,"y":1.5},{"s":15,"x":250,"y":1.4},{"s":15,"x":275,"y":1.5},{"s":15,"x":300,"y":1.4},{"s":15,"x":330,"y":1.5},{"s":15,"x":360,"y":1.4},{"s":15,"x":390,"y":1.3},{"s":15,"x":420,"y":1.4},{"s":15,"x":450,"y":1.5},{"s":15,"x":475,"y":1.4},{"s":15,"x":495,"y":1.45},
{"s":16,"x":5,"y":0.9},{"s":16,"x":10,"y":1.3},{"s":16,"x":15,"y":1.6},{"s":16,"x":20,"y":1.4},{"s":16,"x":30,"y":1.2},{"s":16,"x":40,"y":1.3},{"s":16,"x":50,"y":1.2},{"s":16,"x":60,"y":1.4},{"s":16,"x":75,"y":1.3},{"s":16,"x":90,"y":1.2},{"s":16,"x":105,"y":1.3},{"s":16,"x":120,"y":1.2},{"s":16,"x":140,"y":1.3},{"s":16,"x":160,"y":1.4},{"s":16,"x":180,"y":1.3},{"s":16,"x":200,"y":1.4},{"s":16,"x":225,"y":1.5},{"s":16,"x":250,"y":1.4},{"s":16,"x":275,"y":1.3},{"s":16,"x":300,"y":1.4},{"s":16,"x":330,"y":1.3},{"s":16,"x":360,"y":1.4},{"s":16,"x":390,"y":1.3},{"s":16,"x":420,"y":1.2},{"s":16,"x":450,"y":1.3},{"s":16,"x":475,"y":1.4},{"s":16,"x":495,"y":1.35},
{"s":17,"x":5,"y":2.2},{"s":17,"x":10,"y":1.0},{"s":17,"x":15,"y":0.8},{"s":17,"x":20,"y":0.9},{"s":17,"x":30,"y":1.1},{"s":17,"x":40,"y":1.0},{"s":17,"x":50,"y":0.9},{"s":17,"x":60,"y":1.1},{"s":17,"x":75,"y":1.0},{"s":17,"x":90,"y":1.2},{"s":17,"x":105,"y":1.1},{"s":17,"x":120,"y":1.3},{"s":17,"x":140,"y":1.2},{"s":17,"x":160,"y":1.3},{"s":17,"x":180,"y":1.4},{"s":17,"x":200,"y":1.3},{"s":17,"x":225,"y":1.4},{"s":17,"x":250,"y":1.3},{"s":17,"x":275,"y":1.2},{"s":17,"x":300,"y":1.3},{"s":17,"x":330,"y":1.2},{"s":17,"x":360,"y":1.3},{"s":17,"x":390,"y":1.2},{"s":17,"x":420,"y":1.3},{"s":17,"x":450,"y":1.2},{"s":17,"x":475,"y":1.3},{"s":17,"x":495,"y":1.25},
{"s":18,"x":5,"y":0.7},{"s":18,"x":10,"y":0.6},{"s":18,"x":15,"y":0.7},{"s":18,"x":20,"y":0.8},{"s":18,"x":30,"y":0.9},{"s":18,"x":40,"y":0.8},{"s":18,"x":50,"y":0.7},{"s":18,"x":60,"y":0.8},{"s":18,"x":75,"y":0.9},{"s":18,"x":90,"y":0.8},{"s":18,"x":105,"y":0.7},{"s":18,"x":120,"y":0.8},{"s":18,"x":140,"y":0.8},{"s":18,"x":160,"y":0.7},{"s":18,"x":180,"y":0.8},{"s":18,"x":200,"y":0.7},{"s":18,"x":225,"y":0.8},{"s":18,"x":250,"y":0.7},{"s":18,"x":275,"y":0.8},{"s":18,"x":300,"y":0.7},{"s":18,"x":330,"y":0.7},{"s":18,"x":360,"y":0.8},{"s":18,"x":390,"y":0.7},{"s":18,"x":420,"y":0.8},{"s":18,"x":450,"y":0.7},{"s":18,"x":475,"y":0.8},{"s":18,"x":495,"y":0.75},
{"s":19,"x":5,"y":1.0},{"s":19,"x":10,"y":0.7},{"s":19,"x":15,"y":0.5},{"s":19,"x":20,"y":0.6},{"s":19,"x":30,"y":0.7},{"s":19,"x":40,"y":0.6},{"s":19,"x":50,"y":0.7},{"s":19,"x":60,"y":0.6},{"s":19,"x":75,"y":0.7},{"s":19,"x":90,"y":0.8},{"s":19,"x":105,"y":0.7},{"s":19,"x":120,"y":0.8},{"s":19,"x":140,"y":0.7},{"s":19,"x":160,"y":0.8},{"s":19,"x":180,"y":0.7},{"s":19,"x":200,"y":0.8},{"s":19,"x":225,"y":0.7},{"s":19,"x":250,"y":0.7},{"s":19,"x":275,"y":0.6},{"s":19,"x":300,"y":0.7},{"s":19,"x":330,"y":0.6},{"s":19,"x":360,"y":0.7},{"s":19,"x":390,"y":0.6},{"s":19,"x":420,"y":0.7},{"s":19,"x":450,"y":0.6},{"s":19,"x":475,"y":0.65},{"s":19,"x":495,"y":0.62},
{"s":20,"x":5,"y":0.4},{"s":20,"x":10,"y":0.8},{"s":20,"x":15,"y":1.0},{"s":20,"x":20,"y":0.8},{"s":20,"x":30,"y":0.6},{"s":20,"x":40,"y":0.5},{"s":20,"x":50,"y":0.6},{"s":20,"x":60,"y":0.5},{"s":20,"x":75,"y":0.6},{"s":20,"x":90,"y":0.5},{"s":20,"x":105,"y":0.6},{"s":20,"x":120,"y":0.5},{"s":20,"x":140,"y":0.6},{"s":20,"x":160,"y":0.5},{"s":20,"x":180,"y":0.6},{"s":20,"x":200,"y":0.5},{"s":20,"x":225,"y":0.55},{"s":20,"x":250,"y":0.5},{"s":20,"x":275,"y":0.55},{"s":20,"x":300,"y":0.5},{"s":20,"x":330,"y":0.5},{"s":20,"x":360,"y":0.55},{"s":20,"x":390,"y":0.5},{"s":20,"x":420,"y":0.5},{"s":20,"x":450,"y":0.55},{"s":20,"x":475,"y":0.5},{"s":20,"x":495,"y":0.5},
{"s":21,"x":5,"y":9.8},{"s":21,"x":10,"y":5.5},{"s":21,"x":15,"y":3.0},{"s":21,"x":20,"y":2.2},{"s":21,"x":30,"y":1.7},{"s":21,"x":40,"y":1.5},{"s":21,"x":50,"y":1.6},{"s":21,"x":60,"y":1.8},{"s":21,"x":75,"y":1.9},{"s":21,"x":90,"y":2.1},{"s":21,"x":105,"y":2.0},{"s":21,"x":120,"y":2.2},{"s":21,"x":140,"y":2.3},{"s":21,"x":160,"y":2.4},{"s":21,"x":180,"y":2.2},{"s":21,"x":200,"y":2.0},{"s":21,"x":225,"y":1.9},{"s":21,"x":250,"y":1.8},{"s":21,"x":275,"y":1.9},{"s":21,"x":300,"y":1.7},{"s":21,"x":330,"y":1.8},{"s":21,"x":360,"y":1.6},{"s":21,"x":390,"y":1.7},{"s":21,"x":420,"y":1.6},{"s":21,"x":450,"y":1.7},{"s":21,"x":475,"y":1.6},{"s":21,"x":495,"y":1.67},
{"s":22,"x":5,"y":1.8},{"s":22,"x":10,"y":1.4},{"s":22,"x":15,"y":1.0},{"s":22,"x":20,"y":0.7},{"s":22,"x":30,"y":0.6},{"s":22,"x":40,"y":0.8},{"s":22,"x":50,"y":1.0},{"s":22,"x":60,"y":1.1},{"s":22,"x":75,"y":1.2},{"s":22,"x":90,"y":1.3},{"s":22,"x":105,"y":1.2},{"s":22,"x":120,"y":1.1},{"s":22,"x":140,"y":1.2},{"s":22,"x":160,"y":1.1},{"s":22,"x":180,"y":1.3},{"s":22,"x":200,"y":1.2},{"s":22,"x":225,"y":1.1},{"s":22,"x":250,"y":1.2},{"s":22,"x":275,"y":1.1},{"s":22,"x":300,"y":1.2},{"s":22,"x":330,"y":1.1},{"s":22,"x":360,"y":1.2},{"s":22,"x":390,"y":1.1},{"s":22,"x":420,"y":1.0},{"s":22,"x":450,"y":1.1},{"s":22,"x":475,"y":1.2},{"s":22,"x":495,"y":1.1},
{"s":23,"x":5,"y":1.3},{"s":23,"x":10,"y":1.1},{"s":23,"x":15,"y":1.4},{"s":23,"x":20,"y":1.8},{"s":23,"x":30,"y":2.2},{"s":23,"x":40,"y":2.6},{"s":23,"x":50,"y":2.4},{"s":23,"x":60,"y":2.2},{"s":23,"x":75,"y":2.0},{"s":23,"x":90,"y":2.2},{"s":23,"x":105,"y":2.4},{"s":23,"x":120,"y":2.6},{"s":23,"x":140,"y":2.8},{"s":23,"x":160,"y":3.0},{"s":23,"x":180,"y":3.2},{"s":23,"x":200,"y":3.4},{"s":23,"x":225,"y":3.2},{"s":23,"x":250,"y":2.9},{"s":23,"x":275,"y":2.7},{"s":23,"x":300,"y":2.5},{"s":23,"x":330,"y":2.3},{"s":23,"x":360,"y":2.2},{"s":23,"x":390,"y":2.1},{"s":23,"x":420,"y":2.0},{"s":23,"x":450,"y":2.1},{"s":23,"x":475,"y":2.0},{"s":23,"x":495,"y":1.95}
],
"cm":[
{"x":4,"m":10.3,"lo":4.8,"hi":10.35},{"x":8,"m":8.8,"lo":7.8,"hi":9.8},{"x":11,"m":5.7,"lo":5.0,"hi":6.4},{"x":15,"m":3.8,"lo":3.3,"hi":4.3},{"x":20,"m":3.5,"lo":3.0,"hi":4.0},{"x":25,"m":3.4,"lo":2.9,"hi":3.9},{"x":37.5,"m":3.15,"lo":2.65,"hi":3.65},{"x":50,"m":2.95,"lo":2.5,"hi":3.4},{"x":62.5,"m":2.7,"lo":2.25,"hi":3.15},{"x":75,"m":2.55,"lo":2.1,"hi":3.0},{"x":87.5,"m":2.38,"lo":1.98,"hi":2.78},{"x":100,"m":2.25,"lo":1.85,"hi":2.65},{"x":112.5,"m":2.15,"lo":1.8,"hi":2.5},{"x":125,"m":2.1,"lo":1.75,"hi":2.45},{"x":137.5,"m":2.09,"lo":1.79,"hi":2.39},{"x":150,"m":2.08,"lo":1.78,"hi":2.38},{"x":162.5,"m":2.08,"lo":1.78,"hi":2.38},{"x":175,"m":2.08,"lo":1.78,"hi":2.38},{"x":187.5,"m":2.07,"lo":1.79,"hi":2.35},{"x":200,"m":2.07,"lo":1.79,"hi":2.35},{"x":212.5,"m":2.06,"lo":1.78,"hi":2.34},{"x":225,"m":2.05,"lo":1.77,"hi":2.33},{"x":237.5,"m":2.05,"lo":1.8,"hi":2.3},{"x":250,"m":2.04,"lo":1.79,"hi":2.29},{"x":262.5,"m":2.02,"lo":1.77,"hi":2.27},{"x":275,"m":2.0,"lo":1.75,"hi":2.25},{"x":287.5,"m":1.98,"lo":1.74,"hi":2.22},{"x":300,"m":1.97,"lo":1.75,"hi":2.19},{"x":312.5,"m":1.95,"lo":1.73,"hi":2.17},{"x":325,"m":1.93,"lo":1.71,"hi":2.15},{"x":337.5,"m":1.91,"lo":1.7,"hi":2.12},{"x":350,"m":1.9,"lo":1.7,"hi":2.1},{"x":362.5,"m":1.89,"lo":1.69,"hi":2.09},{"x":375,"m":1.89,"lo":1.69,"hi":2.09},{"x":387.5,"m":1.88,"lo":1.68,"hi":2.08},{"x":400,"m":1.88,"lo":1.68,"hi":2.08},{"x":412.5,"m":1.87,"lo":1.67,"hi":2.07},{"x":425,"m":1.86,"lo":1.66,"hi":2.06},{"x":437.5,"m":1.85,"lo":1.65,"hi":2.05},{"x":450,"m":1.84,"lo":1.64,"hi":2.04},{"x":462.5,"m":1.83,"lo":1.63,"hi":2.03},{"x":475,"m":1.83,"lo":1.63,"hi":2.03},{"x":487.5,"m":1.84,"lo":1.64,"hi":2.04}
]
},
"vconcat":[
{"width":286,"height":329,
"layer":[
{"data":{"name":"a"},"mark":{"type":"line","color":"#1a1a1a","strokeWidth":1.2,"opacity":0.85,"interpolate":"monotone"},
"encoding":{
"x":{"field":"x","type":"quantitative","title":"Simulation length (ps)","scale":{"domain":[16.3,483.6],"nice":false,"zero":false},"axis":{"values":[50,100,150,200,250,300,350,400,450],"labelPadding":11,"titleX":152,"titleY":47}},
"y":{"field":"y","type":"quantitative","title":"\u0394g\u2092 (eV)","scale":{"domain":[-0.3,0.01],"nice":false,"zero":false},"axis":{"offset":10,"values":[-0.3,-0.25,-0.2,-0.15,-0.1,-0.05,0],"labelExpr":"abs(round(datum.value*100)) % 10 == 0 ? replace(format(datum.value, '.2f'), '\u2212', '-') : ''","labelPadding":14,"titleX":-79,"titleY":169}},
"detail":{"field":"s","type":"nominal"}}},
{"data":{"name":"am"},"mark":{"type":"errorbar","color":"#ffa040","thickness":1,"ticks":{"size":5}},
"encoding":{"x":{"field":"x","type":"quantitative","title":"Simulation length (ps)","axis":{"values":[50,100,150,200,250,300,350,400,450],"labelPadding":11,"titleX":152,"titleY":47}},"y":{"field":"lo","type":"quantitative","title":"\u0394g\u2092 (eV)"},"y2":{"field":"hi"}}},
{"data":{"name":"am"},"mark":{"type":"line","color":"#ff7f0e","strokeWidth":2.5},
"encoding":{"x":{"field":"x","type":"quantitative","title":"Simulation length (ps)","axis":{"values":[50,100,150,200,250,300,350,400,450],"labelPadding":11,"titleX":152,"titleY":47}},"y":{"field":"m","type":"quantitative","title":"\u0394g\u2092 (eV)"}}},
{"data":{"values":[{}]},"mark":{"type":"rule","color":"#707070","strokeWidth":1.4},
"encoding":{"x":{"datum":0},"x2":{"datum":16.3},"y":{"datum":-0.3}}}
]},
{"width":286,"height":300,
"layer":[
{"data":{"name":"b"},"mark":{"type":"line","color":"#1a1a1a","strokeWidth":1.2,"opacity":0.85,"interpolate":"monotone"},
"encoding":{
"x":{"field":"x","type":"quantitative","title":"Simulation length (ps)","scale":{"domain":[0,499],"nice":false,"zero":false},"axis":{"values":[0,50,100,150,200,250,300,350,400,450],"labelPadding":21,"labelOffset":{"condition":[{"test":"datum.value == 50","value":-9},{"test":"datum.value == 150","value":-4},{"test":"datum.value == 450","value":5}],"value":1},"titleX":147,"titleY":54}},
"y":{"field":"y","type":"quantitative","title":"\u03bb\u2092\u02e2\u1d57 (eV)","scale":{"domain":[0.2,0.6],"nice":false,"zero":false},"axis":{"values":[0.2,0.25,0.3,0.35,0.4,0.45,0.5,0.55,0.6],"labelExpr":"round(datum.value*100) % 10 == 0 ? format(datum.value, '.2f') : ''","labelPadding":22,"titleX":-85,"titleY":137}},
"detail":{"field":"s","type":"nominal"}}},
{"data":{"name":"bm"},"mark":{"type":"errorbar","color":"#ffa040","thickness":1,"ticks":{"size":5}},
"encoding":{"x":{"field":"x","type":"quantitative","title":"Simulation length (ps)","axis":{"values":[0,50,100,150,200,250,300,350,400,450],"labelPadding":21,"labelOffset":{"condition":[{"test":"datum.value == 50","value":-9},{"test":"datum.value == 150","value":-4},{"test":"datum.value == 450","value":5}],"value":1},"titleX":147,"titleY":54}},"y":{"field":"lo","type":"quantitative","title":"\u03bb\u2092\u02e2\u1d57 (eV)"},"y2":{"field":"hi"}}},
{"data":{"name":"bm"},"mark":{"type":"line","color":"#ff7f0e","strokeWidth":2.5},
"encoding":{"x":{"field":"x","type":"quantitative","title":"Simulation length (ps)","axis":{"values":[0,50,100,150,200,250,300,350,400,450],"labelPadding":21,"labelOffset":{"condition":[{"test":"datum.value == 50","value":-9},{"test":"datum.value == 150","value":-4},{"test":"datum.value == 450","value":5}],"value":1},"titleX":147,"titleY":54}},"y":{"field":"m","type":"quantitative","title":"\u03bb\u2092\u02e2\u1d57 (eV)"}}}
]},
{"width":286,"height":300,
"layer":[
{"data":{"name":"c"},"mark":{"type":"line","color":"#1a1a1a","strokeWidth":1.2,"opacity":0.85},
"encoding":{
"x":{"field":"x","type":"quantitative","title":"Simulation length (ps)","scale":{"domain":[0,499],"nice":false,"zero":false},"axis":{"values":[0,50,100,150,200,250,300,350,400,450],"labelPadding":16,"labelOffset":{"condition":[{"test":"datum.value == 50","value":-8},{"test":"datum.value == 150","value":-3},{"test":"datum.value == 350","value":5},{"test":"datum.value == 450","value":7}],"value":1},"titleX":150,"titleY":43}},
"y":{"field":"y","type":"quantitative","title":"\u03c4\u2098\u209c (ps)","scale":{"domain":[0,10],"nice":false,"zero":false},"axis":{"values":[0,2,4,6,8,10],"labelPadding":16,"titleX":-67,"titleY":149}},
"detail":{"field":"s","type":"nominal"}}},
{"data":{"name":"cm"},"mark":{"type":"errorbar","color":"#ffa040","thickness":1,"ticks":{"size":5}},
"encoding":{"x":{"field":"x","type":"quantitative","title":"Simulation length (ps)","axis":{"values":[0,50,100,150,200,250,300,350,400,450],"labelPadding":16,"labelOffset":{"condition":[{"test":"datum.value == 50","value":-8},{"test":"datum.value == 150","value":-3},{"test":"datum.value == 350","value":5},{"test":"datum.value == 450","value":7}],"value":1},"titleX":150,"titleY":43}},"y":{"field":"lo","type":"quantitative","title":"\u03c4\u2098\u209c (ps)"},"y2":{"field":"hi"}}},
{"data":{"name":"cm"},"mark":{"type":"line","color":"#ff7f0e","strokeWidth":2.5},
"encoding":{"x":{"field":"x","type":"quantitative","title":"Simulation length (ps)","axis":{"values":[0,50,100,150,200,250,300,350,400,450],"labelPadding":16,"labelOffset":{"condition":[{"test":"datum.value == 50","value":-8},{"test":"datum.value == 150","value":-3},{"test":"datum.value == 350","value":5},{"test":"datum.value == 450","value":7}],"value":1},"titleX":150,"titleY":43}},"y":{"field":"m","type":"quantitative","title":"\u03c4\u2098\u209c (ps)"}}}
]}
]
}
